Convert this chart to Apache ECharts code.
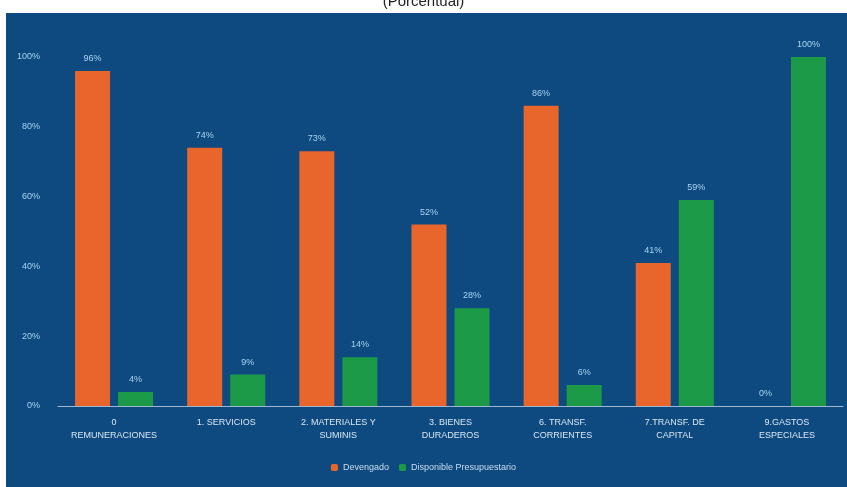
<!DOCTYPE html>
<html><head><meta charset="utf-8">
<script src="https://cdn.jsdelivr.net/npm/echarts@6/dist/echarts.min.js"></script>
<style>html,body{margin:0;padding:0;background:#fff;}#c{width:847px;height:487px;}</style>
</head><body><div id="c"></div>
<script>
const categories = ['0\nREMUNERACIONES','1. SERVICIOS','2. MATERIALES Y\nSUMINIS','3. BIENES\nDURADEROS','6. TRANSF.\nCORRIENTES','7.TRANSF. DE\nCAPITAL','9.GASTOS\nESPECIALES'];
const devengado = [96, 74, 73, 52, 86, 41, 0];
const disponible = [4, 9, 14, 28, 6, 59, 100];
const seriesNames = ['Devengado', 'Disponible Presupuestario'];
const yTicks = [0, 20, 40, 60, 80, 100];

const chart = echarts.init(document.getElementById('c'), null, {renderer:'canvas'});
const lblColor = '#a9d4f2';
chart.setOption({
  backgroundColor: '#ffffff',
  animation: false,
  title: {text: '(Porcentual)', left: 'center', top: -11, textStyle: {color: '#222', fontSize: 15, fontWeight: 'normal', fontFamily: 'Liberation Sans'}},
  graphic: [{type: 'rect', shape: {x: 6, y: 13, width: 841, height: 474}, style: {fill: '#0e4a80'}, z: -10}],
  grid: {left: 58, right: 4, top: 57, bottom: 81},
  legend: {
    data: seriesNames, bottom: 10, left: 'center', itemWidth: 7, itemHeight: 7, itemGap: 10,
    textStyle: {color: '#c9def0', fontSize: 9, fontFamily: 'Liberation Sans'}
  },
  xAxis: {
    type: 'category', data: categories,
    axisLine: {lineStyle: {color: '#9fb8d0', width: 1}},
    axisTick: {show: false},
    axisLabel: {color: '#d8e6f2', fontSize: 9, lineHeight: 13, margin: 10, interval: 0, fontFamily: 'Liberation Sans'}
  },
  yAxis: {
    type: 'value', min: 0, max: 100, interval: 20,
    splitLine: {show: false},
    axisLine: {show: false}, axisTick: {show: false},
    axisLabel: {color: lblColor, fontSize: 9, margin: 18, fontFamily: 'Liberation Sans',
      formatter: v => yTicks.includes(v) ? v + '%' : ''}
  },
  series: [
    {name: seriesNames[0], type: 'bar', data: devengado, barWidth: 35, barGap: '23%',
     itemStyle: {color: '#e8652c'},
     label: {show: true, position: 'top', color: lblColor, fontSize: 9, formatter: p => p.value + '%', distance: 8}},
    {name: seriesNames[1], type: 'bar', data: disponible, barWidth: 35,
     itemStyle: {color: '#1c9a48'},
     label: {show: true, position: 'top', color: lblColor, fontSize: 9, formatter: p => p.value + '%', distance: 8}}
  ]
});
</script></body></html>
